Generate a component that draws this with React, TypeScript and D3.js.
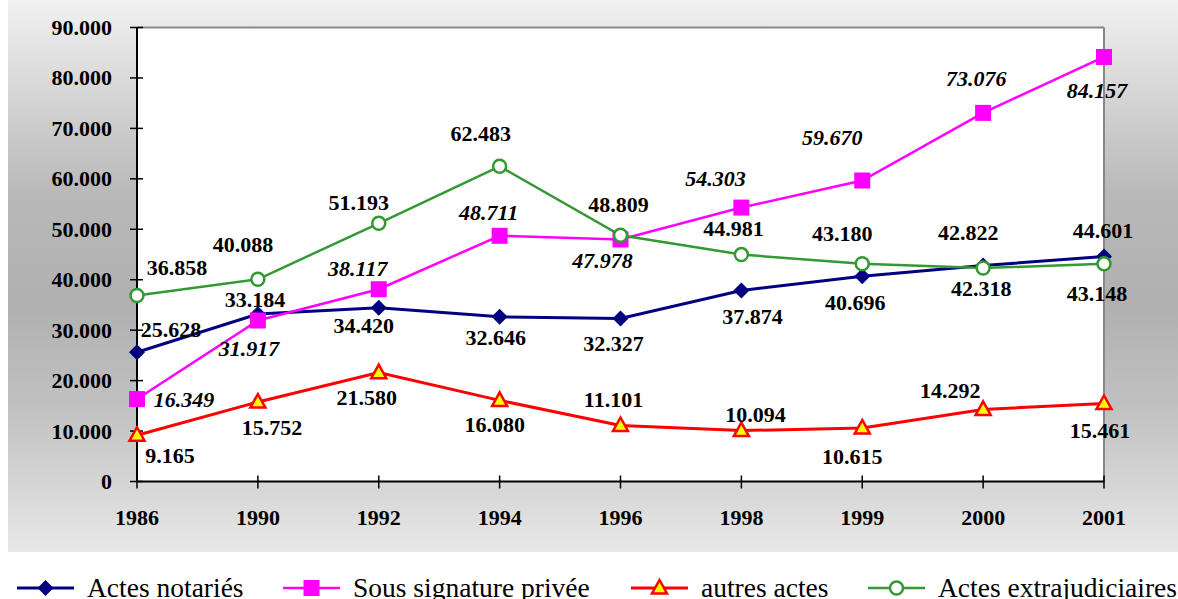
import * as d3 from "d3";

const years = ["1986", "1990", "1992", "1994", "1996", "1998", "1999", "2000", "2001"];

const actesNotaries = [25628, 33184, 34420, 32646, 32327, 37874, 40696, 42822, 44601];
const sousSignature = [16349, 31917, 38117, 48711, 47978, 54303, 59670, 73076, 84157];
const autresActes = [9165, 15752, 21580, 16080, 11101, 10094, 10615, 14292, 15461];
const actesExtra = [36858, 40088, 51193, 62483, 48809, 44981, 43180, 42318, 43148];

const yTicks = [0, 10000, 20000, 30000, 40000, 50000, 60000, 70000, 80000, 90000];

// where each value label sits relative to its point (dx, dy)
const offNotaries = [[34, -23], [-3, -15], [-15, 18], [-4, 21], [-7, 25], [11, 26], [-7, 26], [-15, -33], [-1, -26]];
const offSignature = [[47, 0], [-9, 28], [-21, -21], [-11, -23], [-18, 21], [-26, -29], [-30, -43], [-7, -34], [-7, 34]];
const offAutres = [[33, 20], [14, 25], [-12, 25], [-5, 24], [-7, -26], [14, -16], [-10, 29], [-33, -19], [-4, 27]];
const offExtra = [[40, -28], [-15, -35], [-20, -21], [-19, -33], [-2, -31], [-8, -26], [-20, -30], [-2, 20], [-7, 30]];

const W = 1178;
const H = 599;
const left = 137;
const right = 1104;
const top = 27.5;
const bottom = 481.5;

const fmt = d3.formatLocale({ decimal: ",", thousands: ".", grouping: [3], currency: ["", ""] }).format(",d");

const x = d3.scalePoint<string>().domain(years).range([left, right]);
const y = d3.scaleLinear().domain([0, 90000]).range([bottom, top]);

const serif = "Liberation Serif, Tinos, DejaVu Serif, serif";

type Series = {
  name: string;
  values: number[];
  offsets: number[][];
  color: string;
  width: number;
  marker: string;
  italic?: boolean;
};

const series: Series[] = [
  { name: "Actes notariés", values: actesNotaries, offsets: offNotaries, color: "#000080", width: 3, marker: "diamond" },
  { name: "Sous signature privée", values: sousSignature, offsets: offSignature, color: "#ff00ff", width: 2.5, marker: "square", italic: true },
  { name: "autres actes", values: autresActes, offsets: offAutres, color: "#ff0000", width: 3, marker: "triangle" },
  { name: "Actes extrajudiciaires", values: actesExtra, offsets: offExtra, color: "#339933", width: 2.5, marker: "circle" },
];

function Marker({ kind, cx, cy, color }: { kind: string; cx: number; cy: number; color: string }) {
  if (kind === "diamond") {
    const r = 8;
    return <path d={`M${cx},${cy - r}L${cx + r},${cy}L${cx},${cy + r}L${cx - r},${cy}Z`} fill={color} />;
  }
  if (kind === "square") {
    return <rect x={cx - 8} y={cy - 8} width={16} height={16} fill={color} />;
  }
  if (kind === "triangle") {
    return (
      <path
        d={`M${cx},${cy - 8}L${cx + 7.5},${cy + 5.5}L${cx - 7.5},${cy + 5.5}Z`}
        fill="#ffff00"
        stroke={color}
        strokeWidth={2.5}
      />
    );
  }
  return <circle cx={cx} cy={cy} r={6.5} fill="#fff" stroke={color} strokeWidth={2.5} />;
}

const legendX = [17, 283, 631, 868];

export default function App() {
  const line = d3
    .line<number>()
    .x((_, i) => x(years[i]) as number)
    .y((d) => y(d));

  return (
    <div style={{ position: "absolute", left: 0, top: 0 }}>
      <svg width={W} height={H} style={{ display: "block", fontFamily: serif }}>
        <defs>
          <linearGradient id="bg" x1="0" y1="0" x2="0" y2="1">
            <stop offset="0" stopColor="#f1f1f1" />
            <stop offset="0.35" stopColor="#b9b9b9" />
            <stop offset="0.55" stopColor="#b0b0b0" />
            <stop offset="0.75" stopColor="#c2c2c2" />
            <stop offset="1" stopColor="#e8e8e8" />
          </linearGradient>
        </defs>
        <rect x={0} y={0} width={W} height={H} fill="#fff" />
        <rect x={8} y={0} width={W - 8} height={552} fill="url(#bg)" />
        <rect x={left} y={top} width={right - left} height={bottom - top} fill="#fff" />
        {/* frame: grey top and right, black axes */}
        <line x1={left} x2={right} y1={top} y2={top} stroke="#888" strokeWidth={2} />
        <line x1={right} x2={right} y1={top} y2={bottom} stroke="#888" strokeWidth={2} />
        <line x1={left} x2={left} y1={top} y2={bottom} stroke="#000" strokeWidth={2} />
        <line x1={left} x2={right} y1={bottom} y2={bottom} stroke="#000" strokeWidth={2} />

        {yTicks.map((t) => (
          <g key={t}>
            <line x1={left - 7} x2={left + 6} y1={y(t)} y2={y(t)} stroke="#000" strokeWidth={1.5} />
            <text x={112} y={y(t)} textAnchor="end" dominantBaseline="central" fontWeight="bold" fontSize={22}>
              {fmt(t)}
            </text>
          </g>
        ))}

        {years.map((yr) => (
          <g key={yr}>
            <line x1={x(yr)} x2={x(yr)} y1={bottom - 6} y2={bottom + 7} stroke="#000" strokeWidth={1.5} />
            <text x={x(yr)} y={517} textAnchor="middle" dominantBaseline="central" fontWeight="bold" fontSize={22}>
              {yr}
            </text>
          </g>
        ))}

        {series.map((s) => (
          <g key={s.name}>
            <path d={line(s.values) || ""} fill="none" stroke={s.color} strokeWidth={s.width} />
            {s.values.map((v, i) => (
              <Marker key={i} kind={s.marker} cx={x(years[i]) as number} cy={y(v)} color={s.color} />
            ))}
          </g>
        ))}

        {series.map((s) =>
          s.values.map((v, i) => (
            <text
              key={s.name + i}
              x={(x(years[i]) as number) + s.offsets[i][0]}
              y={y(v) + s.offsets[i][1]}
              textAnchor="middle"
              dominantBaseline="central"
              fontWeight="bold"
              fontStyle={s.italic ? "italic" : "normal"}
              fontSize={22}
            >
              {fmt(v)}
            </text>
          ))
        )}

        {series.map((s, i) => (
          <g key={"lg" + s.name}>
            <line x1={legendX[i]} x2={legendX[i] + 57} y1={588} y2={588} stroke={s.color} strokeWidth={s.width} />
            <Marker kind={s.marker} cx={legendX[i] + 28.5} cy={588} color={s.color} />
            <text x={legendX[i] + 70} y={597} fontSize={27.5} fill="#000">
              {s.name}
            </text>
          </g>
        ))}
      </svg>
    </div>
  );
}
